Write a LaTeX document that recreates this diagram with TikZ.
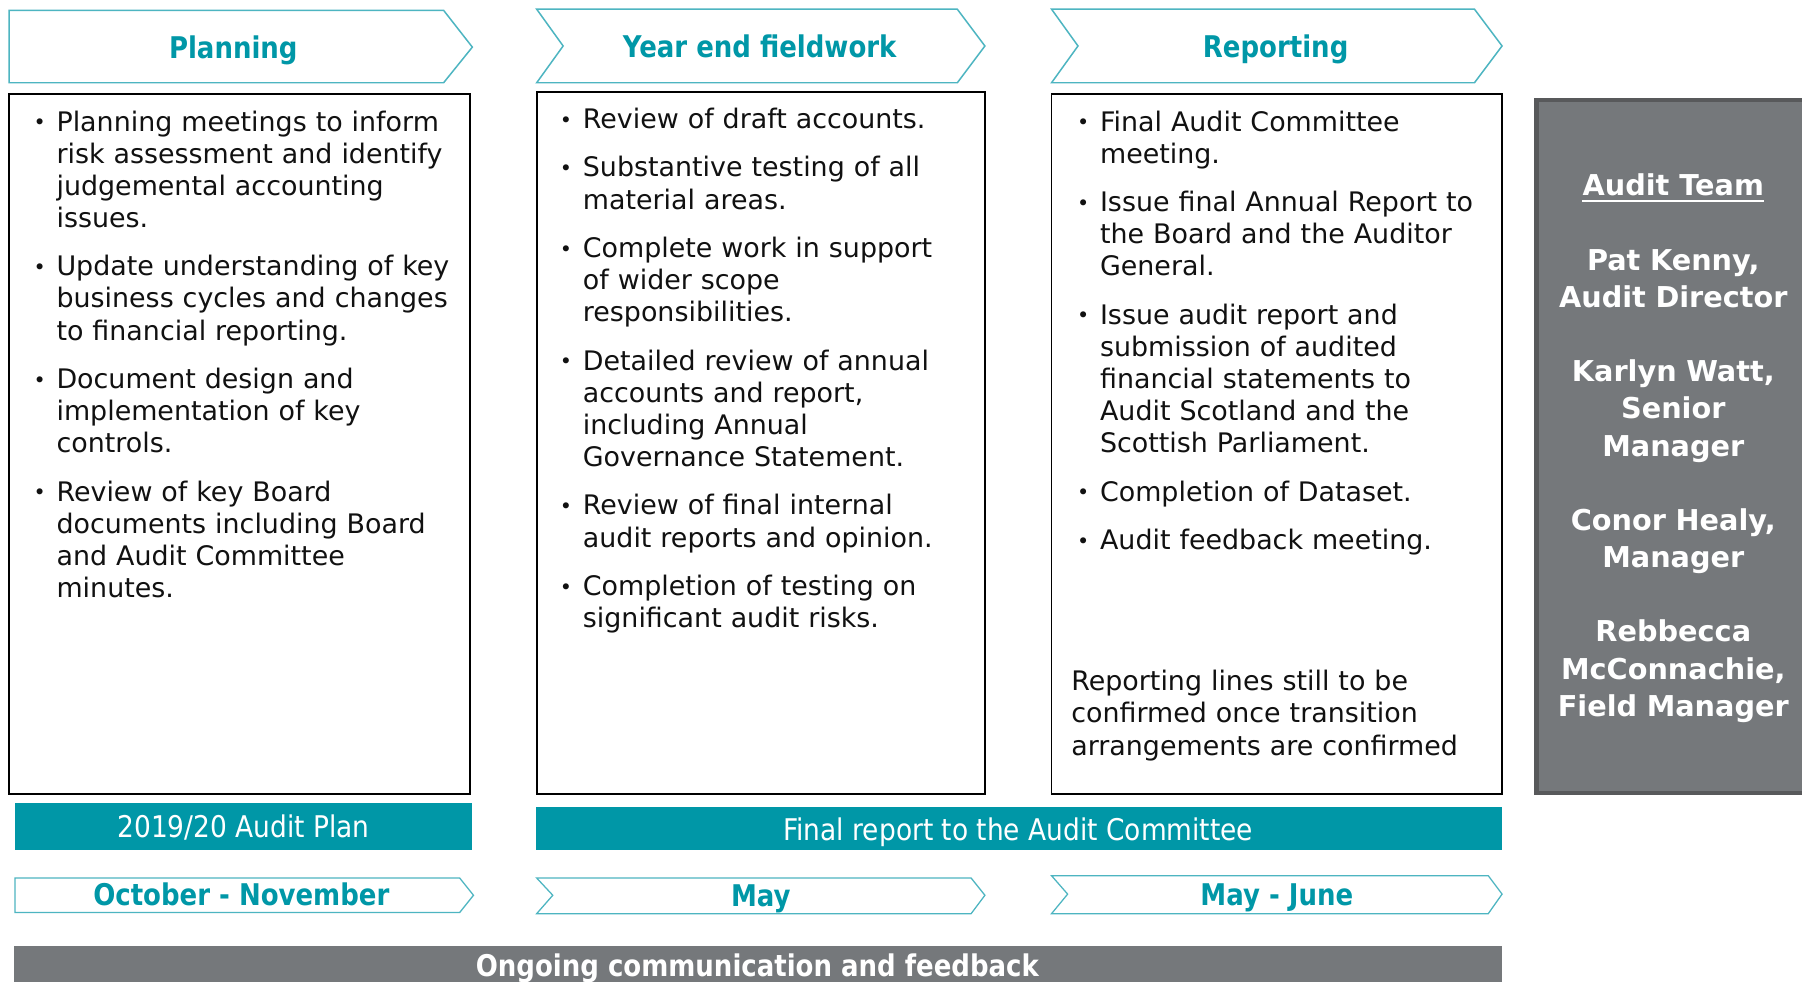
\documentclass[tikz,border=0pt]{standalone}
\usepackage{fontspec}
\setmainfont{DejaVu Sans}
\newfontfamily\tah[FakeStretch=0.87]{DejaVu Sans}
\newfontfamily\tahr[FakeStretch=0.885]{DejaVu Sans}
\definecolor{aTeal}{HTML}{0097A7}
\definecolor{aLine}{HTML}{4DB5C1}
\definecolor{aGrey}{HTML}{75787B}
\definecolor{aGreyD}{HTML}{58595B}
\definecolor{aText}{HTML}{111111}
\newcommand\bulx{\noindent\hangindent=20pt\hangafter=1\makebox[20pt][l]{\fontsize{18}{18}\selectfont\raisebox{1pt}{•}}}
\newcommand\bul{\par\bulx}
\tikzset{
  chev/.style={draw=aLine, line width=1.3pt, fill=white},
  lowchev/.style={draw=aLine, line width=1.1pt, fill=white},
  head/.style={font=\tah\bfseries\fontsize{26}{30}\selectfont, text=aTeal, inner sep=0pt, anchor=base},
  body/.style={font=\fontsize{23.4}{28}\selectfont, text=aText, text width=#1, align=left, inner sep=0pt, anchor=base west},
  colbox/.style={draw=black, line width=1.4pt, fill=white},
  tealbar/.style={fill=aTeal, draw=none},
  barlabel/.style={font=\tahr\fontsize{26}{30}\selectfont, text=white, inner sep=0pt},
  team/.style={font=\bfseries\fontsize{25}{32.5}\selectfont, text=white, inner sep=0pt},
}
\begin{document}
\begin{tikzpicture}[x=1pt,y=-1pt]
\useasboundingbox (0,0) rectangle (1568,854);
\clip (0,0) rectangle (1568,854);
\fill[white] (0,0) rectangle (1568,854);

% top chevrons
\draw[chev] (8,9) -- (386,9) -- (411,41) -- (386,72) -- (8,72) -- cycle;
\draw[chev] (467,8) -- (833,8) -- (857,40) -- (833,72) -- (467,72) -- (490,40) -- cycle;
\draw[chev] (915,8) -- (1283,8) -- (1307,40) -- (1283,72) -- (915,72) -- (938,40) -- cycle;
\node[head] (hplan) at (203,51) {Planning};
\node[head] (hyear) at (661,50) {Year end fieldwork};
\node[head] (hrep) at (1110,50) {Reporting};

% column boxes
\draw[colbox] (8,82) rectangle (409,691);
\draw[colbox] (467,80) rectangle (857,691);
\draw[colbox] (915,82) rectangle (1307,691);

\node[body=400pt] (tplan) at (29,114) {\setlength\parskip{14pt}%
\bulx Planning meetings to inform\newline risk assessment and identify\newline judgemental accounting\newline issues.
\bul Update understanding of key\newline business cycles and changes\newline to financial reporting.
\bul Document design and\newline implementation of key\newline controls.
\bul Review of key Board\newline documents including Board\newline and Audit Committee\newline minutes.\par};

\node[body=400pt] (tyear) at (487,112) {\setlength\parskip{14pt}%
\bulx Review of draft accounts.
\bul Substantive testing of all\newline material areas.
\bul Complete work in support\newline of wider scope\newline responsibilities.
\bul Detailed review of annual\newline accounts and report,\newline including Annual\newline Governance Statement.
\bul Review of final internal\newline audit reports and opinion.
\bul Completion of testing on\newline significant audit risks.\par};

\node[body=400pt] (trep) at (937,114) {\setlength\parskip{14pt}%
\bulx Final Audit Committee\newline meeting.
\bul Issue final Annual Report to\newline the Board and the Auditor\newline General.
\bul Issue audit report and\newline submission of audited\newline financial statements to\newline Audit Scotland and the\newline Scottish Parliament.
\bul Completion of Dataset.
\bul Audit feedback meeting.\par};

\node[body=400pt] (tnote) at (932,601) {Reporting lines still to be\newline confirmed once transition\newline arrangements are confirmed\par};

% audit team panel
\draw[fill=aGrey, draw=aGreyD, line width=4pt] (1337,87) rectangle (1590,690);
\node[team, anchor=base] (tteam) at (1456,170) {Audit Team};
\draw[white, line width=2pt] ([yshift=-5pt]tteam.base west) -- ([yshift=-5pt]tteam.base east);
\node[team, text width=240pt, align=center, anchor=base] (tnames) at (1456,235)
  {Pat Kenny,\\Audit Director\\[32pt]Karlyn Watt,\\Senior\\Manager\\[32pt]Conor Healy,\\Manager\\[32pt]Rebbecca\\McConnachie,\\Field Manager\par};

% teal bars
\fill[tealbar] (13,699) rectangle (411,740);
\node[barlabel, anchor=base] (bplan) at (212,729) {2019/20 Audit Plan};
\fill[tealbar] (466,702) rectangle (1307,740);
\node[barlabel, anchor=base] (bfinal) at (886,731) {Final report to the Audit Committee};

% month chevrons
\draw[lowchev] (13,764) -- (400,764) -- (412,779) -- (400,794) -- (13,794) -- cycle;
\draw[lowchev] (467,764) -- (845,764) -- (857,779) -- (845,795) -- (467,795) -- (481,779) -- cycle;
\draw[lowchev] (915,762) -- (1295,762) -- (1307,778) -- (1295,795) -- (915,795) -- (929,778) -- cycle;
\node[head] (moct) at (210,788) {October - November};
\node[head] (mmay) at (662,789) {May};
\node[head] (mjune) at (1111,788) {May - June};

% ongoing bar
\fill[aGrey] (12,823) rectangle (1307,880);
\node[head, text=white] (ongo) at (659,850) {Ongoing communication and feedback};
\end{tikzpicture}
\end{document}
